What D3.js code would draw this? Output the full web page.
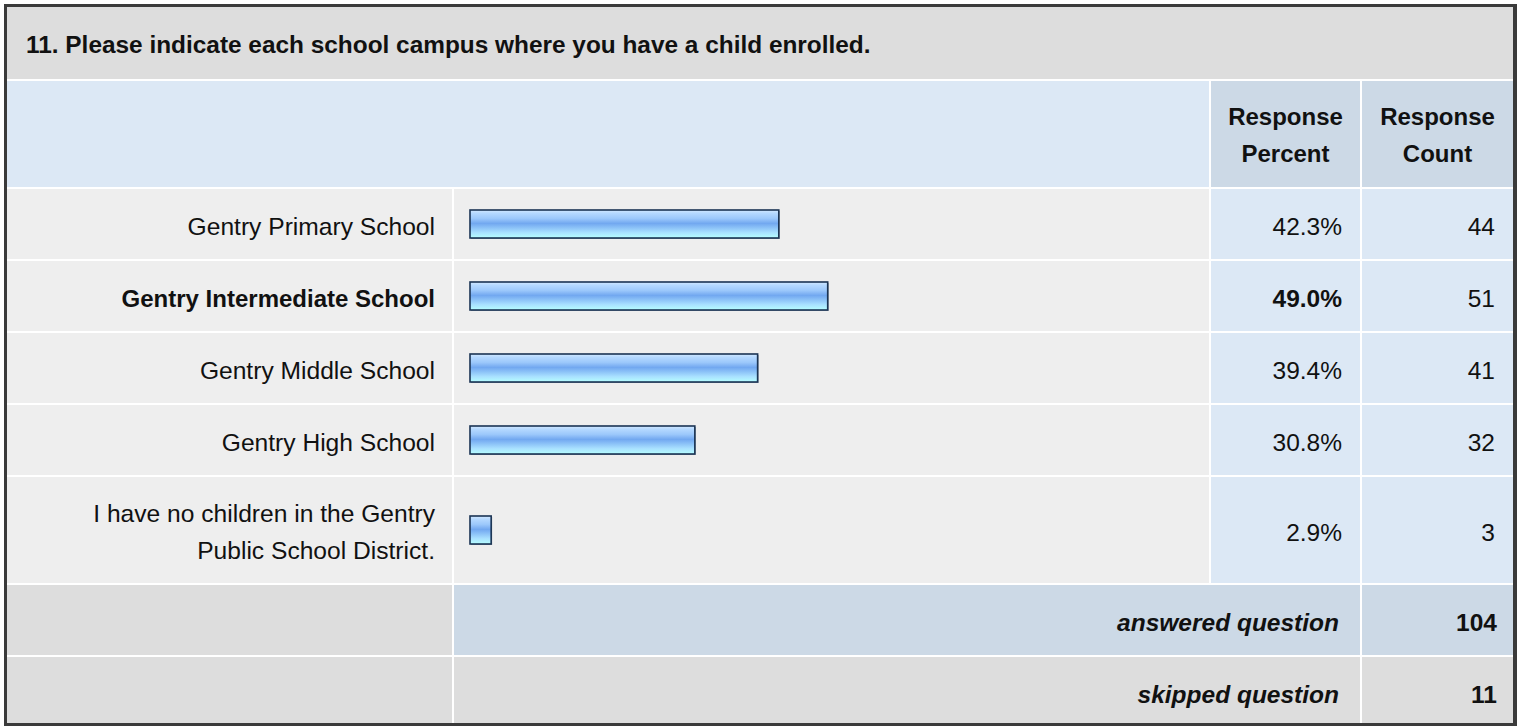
<!DOCTYPE html>
<html>
<head>
<meta charset="utf-8">
<script src="https://cdn.jsdelivr.net/npm/d3@7"></script>
<style>
  html, body { margin: 0; padding: 0; background: #ffffff; }
  svg { display: block; }
  text { font-family: "Liberation Sans", Arial, Helvetica, sans-serif; fill: #111; }
</style>
</head>
<body>
<div id="chart"></div>
<script>
const questionTitle = "11. Please indicate each school campus where you have a child enrolled.";
const headerLabels = [["Response", "Percent"], ["Response", "Count"]];
const categories = [
    ["Gentry Primary School"],
    ["Gentry Intermediate School"],
    ["Gentry Middle School"],
    ["Gentry High School"],
    ["I have no children in the Gentry", "Public School District."]
];
const percents = [42.3, 49.0, 39.4, 30.8, 2.9];
const counts = [44, 51, 41, 32, 3];
const summaryLabels = ["answered question", "skipped question"];
const summaryCounts = [104, 11];

const W = 1521, H = 726;

// column edges: label | bar | percent | count
const col = {labelL: 7, labelR: 452, barL: 454, barR: 1209, pctL: 1211, pctR: 1360, cntL: 1362, cntR: 1513};

const svg = d3.select("#chart").append("svg")
    .attr("width", W)
    .attr("height", H);

const defs = svg.append("defs");
const grad = defs.append("linearGradient")
    .attr("id", "barGrad")
    .attr("x1", 0).attr("y1", 0).attr("x2", 0).attr("y2", 1);
[
    ["0%", "#d2e8ff"], ["12%", "#b4d8ff"], ["30%", "#9cc8fb"], ["48%", "#72a8f0"],
    ["60%", "#86bcf6"], ["80%", "#a8e0ff"], ["100%", "#b6ffff"]
].forEach(s => grad.append("stop").attr("offset", s[0]).attr("stop-color", s[1]));

// outer frame
svg.append("rect").attr("x", 4).attr("y", 4).attr("width", 1513).attr("height", 722).attr("fill", "#3a3a3a");
svg.append("rect").attr("x", 7).attr("y", 7).attr("width", 1506).attr("height", 716).attr("fill", "#ffffff");

const g = svg.append("g");

function cell(x0, x1, y0, y1, fill) {
    g.append("rect").attr("x", x0).attr("y", y0).attr("width", x1 - x0).attr("height", y1 - y0).attr("fill", fill);
}

function label(str, x, y, opt) {
    opt = opt || {};
    g.append("text")
        .attr("x", x)
        .attr("y", y)
        .attr("text-anchor", opt.anchor || "start")
        .style("font-size", (opt.size || 24) + "px")
        .style("font-weight", opt.weight || "normal")
        .style("font-style", opt.style || "normal")
        .text(str);
}

// title band
cell(col.labelL, col.cntR, 7, 79, "#dddddd");
label(questionTitle, 26, 53, {size: 24.4, weight: "bold"});

// header band
const headTop = 81, headBot = 187;
cell(col.labelL, col.barR, headTop, headBot, "#dce8f5");
cell(col.pctL, col.pctR, headTop, headBot, "#ccd9e6");
cell(col.cntL, col.cntR, headTop, headBot, "#ccd9e6");
const headCenters = [(col.pctL + col.pctR) / 2, (col.cntL + col.cntR) / 2];
headerLabels.forEach((lines, i) => {
    lines.forEach((ln, j) => {
        label(ln, headCenters[i], 125 + j * 37, {size: 24, weight: "bold", anchor: "middle"});
    });
});

// rows
const lineH = 36.5;
let y = 189;
const rows = categories.map((lines, i) => {
    const h = 70 + 36 * (lines.length - 1);
    const r = {lines: lines, pct: percents[i], count: counts[i], y0: y, y1: y + h};
    y += h + 2;
    return r;
});

const x = d3.scaleLinear()
    .domain([0, 100])
    .range([470, 1200]);

const maxPct = d3.max(percents);

rows.forEach(r => {
    const cy = (r.y0 + r.y1) / 2;
    const isTop = r.pct === maxPct;
    cell(col.labelL, col.labelR, r.y0, r.y1, "#eeeeee");
    cell(col.barL, col.barR, r.y0, r.y1, "#eeeeee");
    cell(col.pctL, col.pctR, r.y0, r.y1, "#dce8f5");
    cell(col.cntL, col.cntR, r.y0, r.y1, "#dce8f5");

    r.lines.forEach((ln, j) => {
        const by = cy + 10.5 + (j - (r.lines.length - 1) / 2) * lineH;
        label(ln, col.labelR - 17, by, {size: isTop ? 24 : 24.6, anchor: "end", weight: isTop ? "bold" : "normal"});
    });

    // bar with a soft shadow
    g.append("rect")
        .attr("x", x(0) + 1).attr("y", cy - 14 + 1)
        .attr("width", x(r.pct) - x(0)).attr("height", 28)
        .attr("fill", "#98a2ae");
    g.append("rect")
        .attr("x", x(0)).attr("y", cy - 14)
        .attr("width", x(r.pct) - x(0)).attr("height", 28)
        .attr("fill", "url(#barGrad)")
        .attr("stroke", "#1b3454")
        .attr("stroke-width", 1.6);

    label(d3.format(".1f")(r.pct) + "%", col.pctR - 18, cy + 10.5, {size: 24.5, anchor: "end", weight: isTop ? "bold" : "normal"});
    label(String(r.count), col.cntR - 18, cy + 10.5, {size: 24.5, anchor: "end"});
});

// summary rows
const sumFills = ["#ccd9e6", "#dddddd"];
const sumHeights = [70, 66];
summaryLabels.forEach((s, i) => {
    const y0 = y, y1 = y + sumHeights[i];
    const cy = y0 + 35;
    cell(col.labelL, col.labelR, y0, y1, "#dddddd");
    cell(col.barL, col.pctR, y0, y1, sumFills[i]);
    cell(col.cntL, col.cntR, y0, y1, sumFills[i]);
    label(s, col.pctR - 21, cy + 10.5, {size: 24.5, anchor: "end", weight: "bold", style: "italic"});
    label(String(summaryCounts[i]), col.cntR - 16, cy + 10.5, {size: 24.5, anchor: "end", weight: "bold"});
    y = y1 + 2;
});
</script>
</body>
</html>
